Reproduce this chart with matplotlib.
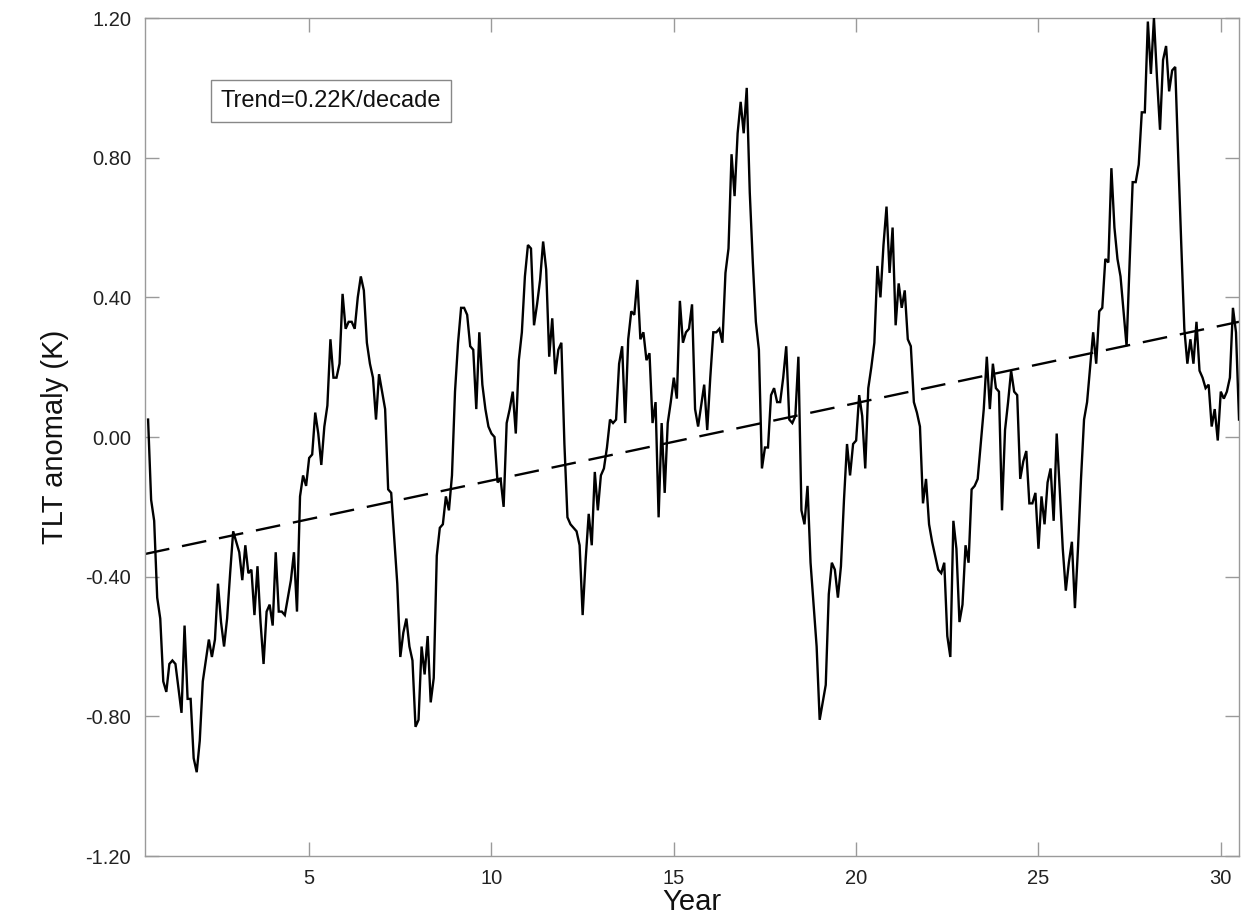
import numpy as np
import matplotlib
matplotlib.use("Agg")
import matplotlib.pyplot as plt

# Monthly TLT anomaly (K), 30 years = 360 months
tlt = [
    0.05, -0.18, -0.24, -0.46, -0.52, -0.70, -0.73, -0.65, -0.64, -0.65,
    -0.72, -0.79, -0.54, -0.75, -0.75, -0.92, -0.96, -0.87, -0.70, -0.64,
    -0.58, -0.63, -0.58, -0.42, -0.53, -0.60, -0.52, -0.39, -0.27, -0.30,
    -0.33, -0.41, -0.31, -0.39, -0.38, -0.51, -0.37, -0.53, -0.65, -0.50,
    -0.48, -0.54, -0.33, -0.50, -0.50, -0.51, -0.46, -0.41, -0.33, -0.50,
    -0.17, -0.11, -0.14, -0.06, -0.05, 0.07, 0.01, -0.08, 0.03, 0.09,
    0.28, 0.17, 0.17, 0.21, 0.41, 0.31, 0.33, 0.33, 0.31, 0.40,
    0.46, 0.42, 0.27, 0.21, 0.17, 0.05, 0.18, 0.13, 0.08, -0.15,
    -0.16, -0.29, -0.42, -0.63, -0.56, -0.52, -0.60, -0.64, -0.83, -0.81,
    -0.60, -0.68, -0.57, -0.76, -0.69, -0.34, -0.26, -0.25, -0.17, -0.21,
    -0.11, 0.13, 0.27, 0.37, 0.37, 0.35, 0.26, 0.25, 0.08, 0.30,
    0.15, 0.08, 0.03, 0.01, 0.00, -0.13, -0.12, -0.20, 0.04, 0.08,
    0.13, 0.01, 0.22, 0.30, 0.46, 0.55, 0.54, 0.32, 0.38, 0.45,
    0.56, 0.48, 0.23, 0.34, 0.18, 0.25, 0.27, -0.02, -0.23, -0.25,
    -0.26, -0.27, -0.31, -0.51, -0.35, -0.22, -0.31, -0.10, -0.21, -0.11,
    -0.09, -0.03, 0.05, 0.04, 0.05, 0.21, 0.26, 0.04, 0.28, 0.36,
    0.35, 0.45, 0.28, 0.30, 0.22, 0.24, 0.04, 0.10, -0.23, 0.04,
    -0.16, 0.04, 0.10, 0.17, 0.11, 0.39, 0.27, 0.30, 0.31, 0.38,
    0.08, 0.03, 0.09, 0.15, 0.02, 0.17, 0.30, 0.30, 0.31, 0.27,
    0.47, 0.54, 0.81, 0.69, 0.87, 0.96, 0.87, 1.00, 0.70, 0.50,
    0.33, 0.25, -0.09, -0.03, -0.03, 0.12, 0.14, 0.10, 0.10, 0.17,
    0.26, 0.05, 0.04, 0.06, 0.23, -0.21, -0.25, -0.14, -0.36, -0.48,
    -0.60, -0.81, -0.76, -0.71, -0.45, -0.36, -0.38, -0.46, -0.37, -0.18,
    -0.02, -0.11, -0.02, -0.01, 0.12, 0.06, -0.09, 0.14, 0.20, 0.27,
    0.49, 0.40, 0.55, 0.66, 0.47, 0.60, 0.32, 0.44, 0.37, 0.42,
    0.28, 0.26, 0.10, 0.07, 0.03, -0.19, -0.12, -0.25, -0.30, -0.34,
    -0.38, -0.39, -0.36, -0.57, -0.63, -0.24, -0.32, -0.53, -0.48, -0.31,
    -0.36, -0.15, -0.14, -0.12, -0.02, 0.08, 0.23, 0.08, 0.21, 0.14,
    0.13, -0.21, 0.02, 0.10, 0.19, 0.13, 0.12, -0.12, -0.07, -0.04,
    -0.19, -0.19, -0.16, -0.32, -0.17, -0.25, -0.13, -0.09, -0.24, 0.01,
    -0.15, -0.32, -0.44, -0.36, -0.30, -0.49, -0.32, -0.12, 0.05, 0.10,
    0.20, 0.30, 0.21, 0.36, 0.37, 0.51, 0.50, 0.77, 0.60, 0.51,
    0.46, 0.36, 0.26, 0.50, 0.73, 0.73, 0.78, 0.93, 0.93, 1.19,
    1.04, 1.20, 1.03, 0.88, 1.08, 1.12, 0.99, 1.05, 1.06, 0.80,
    0.55, 0.31, 0.21, 0.28, 0.21, 0.33, 0.19, 0.17, 0.14, 0.15,
    0.03, 0.08, -0.01, 0.13, 0.11, 0.13, 0.17, 0.37, 0.30, 0.05,
]

# Linear trend endpoints (K) at the start and end of the record
trend_years = [0.5, 30.5]
trend_values = [-0.335, 0.330]
trend_label = "Trend=0.22K/decade"

x_ticks = [5, 10, 15, 20, 25, 30]
y_ticks = [-1.20, -0.80, -0.40, 0.00, 0.40, 0.80, 1.20]

plt.rcParams['font.family'] = ['Liberation Sans', 'DejaVu Sans']

fig = plt.figure(figsize=(12.44, 9.16), dpi=100)
ax = fig.add_axes([0.1166, 0.0655, 0.8794, 0.9148])

n = len(tlt)
years = 0.5 + (np.arange(n) + 1) / 12.0

ax.plot(years, tlt, color='black', lw=1.7, solid_joinstyle='miter', zorder=3)
ax.plot(trend_years, trend_values, color='black', lw=1.7,
        linestyle=(0, (10.5, 5.5)), zorder=2)

ax.set_xlim(0.5, 30.5)
ax.set_ylim(-1.2, 1.2)
ax.set_xticks(x_ticks)
ax.set_xticklabels([str(t) for t in x_ticks])
ax.set_yticks(y_ticks)
ax.set_yticklabels([f"{t:.2f}" for t in y_ticks])

grey = '#9a9a9a'
for s in ax.spines.values():
    s.set_color(grey)
    s.set_linewidth(1.0)
ax.tick_params(direction='in', length=10, width=1.0, color=grey,
               top=True, right=True, labelsize=14.5, labelcolor='#222222')
ax.tick_params(axis='y', pad=10)
ax.tick_params(axis='x', pad=9)

ax.set_xlabel('Year', fontsize=21, labelpad=0, color='#111111')
ax.set_ylabel('TLT anomaly (K)', fontsize=21, labelpad=12, color='#111111')

ax.text(2.58, 0.962, trend_label, fontsize=17, ha='left', va='center',
        color='#111111',
        bbox=dict(boxstyle='square,pad=0.42', fc='white', ec='#888888', lw=1.0))

fig.savefig('out.png', dpi=100)
